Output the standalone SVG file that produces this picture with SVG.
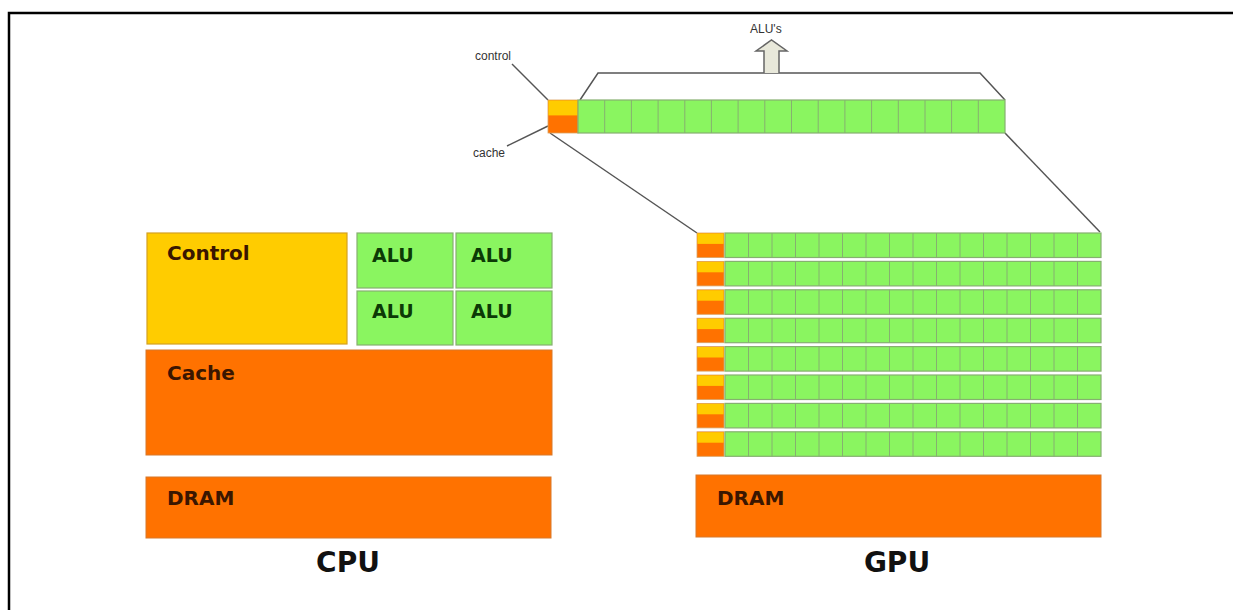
<svg xmlns="http://www.w3.org/2000/svg" width="1233" height="610" viewBox="0 0 1233 610">
<style>
.lbl{font-family:"DejaVu Sans",Verdana,sans-serif;font-weight:bold;font-size:20px;fill:#3a1600}
.alu{font-family:"DejaVu Sans",Verdana,sans-serif;font-weight:bold;font-size:19px;fill:#0c3a06}
.big{font-family:"DejaVu Sans",Verdana,sans-serif;font-weight:bold;font-size:28px;fill:#111;text-anchor:middle}
.small{font-family:"Liberation Sans",Arial,sans-serif;font-size:12px;fill:#333}
.green{fill:#8af560;stroke:#86b070;stroke-width:1.2}
.cell{stroke:#86b070;stroke-width:1;fill:none}
.ctl{fill:#ffcc00}
.cch{fill:#ff7200}
.lead{stroke:#555;stroke-width:1.5;fill:none}
</style>
<defs>
<g id="gpurow">
<rect x="0" y="0" width="27" height="24.5" fill="#ff7200" stroke="#d9a060" stroke-width="0.8"/>
<rect x="0.4" y="0.4" width="26.2" height="10.5" class="ctl"/>
<rect x="28" y="0" width="376" height="24.5" class="green"/>
<path class="cell" d="M51.5,0V24.5M75,0V24.5M98.5,0V24.5M122,0V24.5M145.5,0V24.5M169,0V24.5M192.5,0V24.5M216,0V24.5M239.5,0V24.5M263,0V24.5M286.5,0V24.5M310,0V24.5M333.5,0V24.5M357,0V24.5M380.5,0V24.5"/>
</g>
</defs>
<rect width="1233" height="610" fill="#fff"/>
<g id="frame">
<path d="M9,610V13H1233" fill="none" stroke="#000" stroke-width="2.5"/>
</g>

<g id="connectors">
<path class="lead" d="M512,64L548,100"/>
<path class="lead" d="M507,146L548,126"/>
<path class="lead" d="M550,133L697,233"/>
<path class="lead" d="M1005,133L1100,232"/>
<path class="lead" d="M580,100L598,73H980L1005,100"/>
<path d="M764,73V51H756L771.5,40L787,51H779V73" fill="#e8e8da" stroke="#666" stroke-width="1.5"/>
</g>

<g id="labels-top">
<text class="small" x="475" y="60">control</text>
<text class="small" x="473" y="157">cache</text>
<text class="small" x="750" y="33">ALU's</text>
</g>

<g id="gpu-core-zoom">
<rect x="548" y="100" width="30" height="33" fill="#ff7200" stroke="#d9a060" stroke-width="0.8"/>
<rect x="548.4" y="100.4" width="29.2" height="15" class="ctl"/>
<rect x="578" y="100" width="427" height="33" class="green"/>
<path class="cell" d="M604.7,100V133M631.4,100V133M658.1,100V133M684.8,100V133M711.4,100V133M738.1,100V133M764.8,100V133M791.5,100V133M818.2,100V133M844.9,100V133M871.6,100V133M898.3,100V133M925,100V133M951.6,100V133M978.3,100V133"/>
</g>

<g id="cpu-control">
<rect x="147" y="233" width="200" height="111" fill="#ffcc00" stroke="#d4a020" stroke-width="1.2"/>
<text class="lbl" x="167" y="260">Control</text>
</g>
<g id="cpu-alu1"><rect x="357" y="233" width="96" height="55" class="green"/><text class="alu" x="372" y="262">ALU</text></g>
<g id="cpu-alu2"><rect x="456" y="233" width="96" height="55" class="green"/><text class="alu" x="471" y="262">ALU</text></g>
<g id="cpu-alu3"><rect x="357" y="291" width="96" height="54" class="green"/><text class="alu" x="372" y="318">ALU</text></g>
<g id="cpu-alu4"><rect x="456" y="291" width="96" height="54" class="green"/><text class="alu" x="471" y="318">ALU</text></g>
<g id="cpu-cache">
<rect x="146" y="350" width="406" height="105" fill="#ff7200" stroke="#d8782a" stroke-width="1"/>
<text class="lbl" x="167" y="380">Cache</text>
</g>
<g id="cpu-dram">
<rect x="146" y="477" width="405" height="61" fill="#ff7200" stroke="#d8782a" stroke-width="1"/>
<text class="lbl" x="167" y="505">DRAM</text>
</g>
<g id="cpu-label"><text class="big" x="348" y="572">CPU</text></g>

<g id="gpu-grid">
<use href="#gpurow" x="697" y="233"/>
<use href="#gpurow" x="697" y="261.4"/>
<use href="#gpurow" x="697" y="289.8"/>
<use href="#gpurow" x="697" y="318.2"/>
<use href="#gpurow" x="697" y="346.6"/>
<use href="#gpurow" x="697" y="375"/>
<use href="#gpurow" x="697" y="403.4"/>
<use href="#gpurow" x="697" y="431.8"/>
</g>
<g id="gpu-dram">
<rect x="696" y="475" width="405" height="62" fill="#ff7200" stroke="#d8782a" stroke-width="1"/>
<text class="lbl" x="717" y="505">DRAM</text>
</g>
<g id="gpu-label"><text class="big" x="897" y="572">GPU</text></g>
</svg>
